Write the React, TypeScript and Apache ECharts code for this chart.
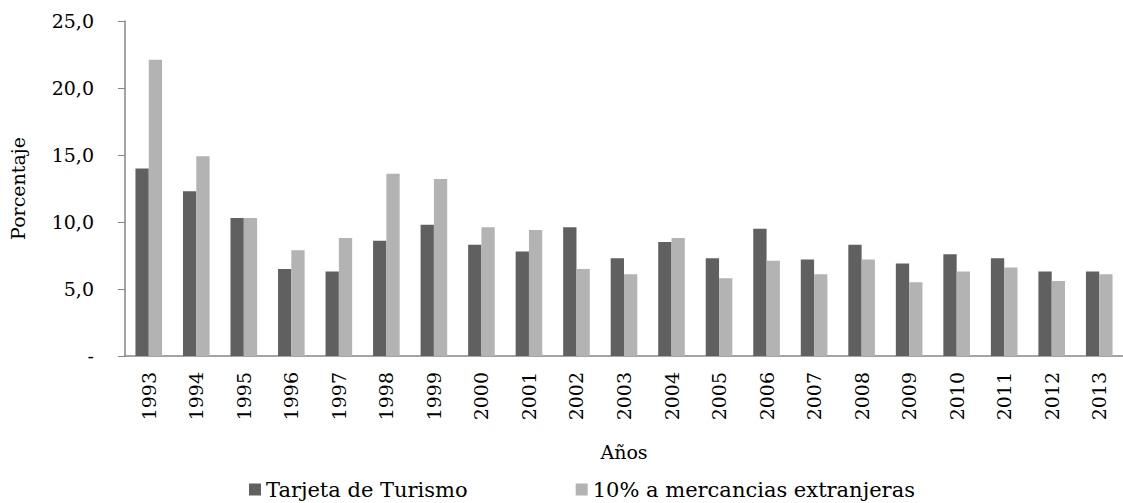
import React, { useEffect, useRef } from "react";
import * as echarts from "echarts";

const years = ["1993","1994","1995","1996","1997","1998","1999","2000","2001","2002","2003","2004","2005","2006","2007","2008","2009","2010","2011","2012","2013"];
const tarjetaTurismo = [14.0,12.3,10.3,6.5,6.3,8.6,9.8,8.3,7.8,9.6,7.3,8.5,7.3,9.5,7.2,8.3,6.9,7.6,7.3,6.3,6.3];
const mercanciasExtranjeras = [22.1,14.9,10.3,7.9,8.8,13.6,13.2,9.6,9.4,6.5,6.1,8.8,5.8,7.1,6.1,7.2,5.5,6.3,6.6,5.6,6.1];
const seriesNames = ["Tarjeta de Turismo", "10% a mercancias extranjeras"];
const yTicks = { min: 0, max: 25, interval: 5 };

const FONT = "DejaVu Serif";

export default function App() {
  const ref = useRef<HTMLDivElement>(null);
  useEffect(() => {
    if (!ref.current) return;
    const chart = echarts.init(ref.current, null, { renderer: "svg" });
    chart.setOption({
      animation: false,
      backgroundColor: "#ffffff",
      textStyle: { fontFamily: FONT, color: "#000" },
      grid: { left: 125, right: -10, top: 21, bottom: 147 },
      legend: {
        data: seriesNames,
        left: 244,
        top: 474,
        itemWidth: 12,
        itemHeight: 12,
        itemGap: 108,
        icon: "rect",
        textStyle: { fontFamily: FONT, fontSize: 21, color: "#000" },
      },
      xAxis: {
        type: "category",
        data: years,
        name: "Años",
        nameLocation: "middle",
        nameGap: 86,
        nameTextStyle: { fontFamily: FONT, fontSize: 19, color: "#000" },
        axisLine: { lineStyle: { color: "#868686", width: 1.5 } },
        axisTick: { show: false },
        axisLabel: { rotate: 90, margin: 16, fontFamily: FONT, fontSize: 19, color: "#000" },
      },
      yAxis: {
        type: "value",
        min: yTicks.min,
        max: yTicks.max,
        interval: yTicks.interval,
        name: "Porcentaje",
        nameLocation: "middle",
        nameGap: 98,
        nameTextStyle: { fontFamily: FONT, fontSize: 19, color: "#000" },
        splitLine: { show: false },
        axisLine: { show: true, lineStyle: { color: "#868686", width: 1.5 } },
        axisTick: { show: true, length: 7, lineStyle: { color: "#868686" } },
        axisLabel: {
          margin: 31,
          fontFamily: FONT,
          fontSize: 19,
          color: "#000",
          formatter: (v: number) => (v === 0 ? "-" : v.toFixed(1).replace(".", ",")),
        },
      },
      series: [
        {
          name: seriesNames[0],
          type: "bar",
          data: tarjetaTurismo,
          barGap: "0%",
          barCategoryGap: "44%",
          itemStyle: { color: "#606060" },
        },
        {
          name: seriesNames[1],
          type: "bar",
          data: mercanciasExtranjeras,
          barGap: "0%",
          barCategoryGap: "44%",
          itemStyle: { color: "#b3b3b3" },
        },
      ],
    });
    return () => chart.dispose();
  }, []);
  return <div ref={ref} style={{ width: 1123, height: 503, position: "absolute", left: 0, top: 0 }} />;
}
